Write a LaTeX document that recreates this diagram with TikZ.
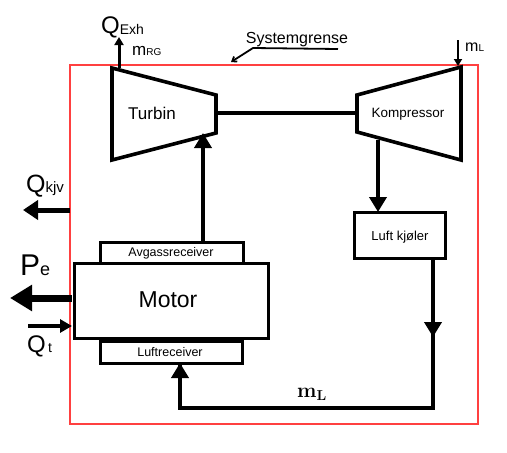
\documentclass[tikz,border=0pt]{standalone}
\usepackage[no-math]{fontspec}
\setmainfont{Liberation Sans}
\usetikzlibrary{arrows.meta}
\tikzset{
  part/.style={line width=3pt, line join=miter},
  flow/.style={line width=4.5pt, -{Triangle[length=15pt,width=17pt]}},
  lbl/.style={inner sep=0pt},
}
\newcommand{\fs}[1]{\fontsize{#1}{#1}\selectfont}

\begin{document}
\begin{tikzpicture}[x=1pt, y=-1pt]
			%%%%% START %%%%%
			\useasboundingbox (0, 0) rectangle (507, 453);
			
			% system boundary
			\draw[line width=1.2pt, color=red!75] (70, 65) rectangle (478, 424);
			
			% turbine and compressor
			\coordinate (tTL) at (112, 68);
			\coordinate (tTR) at (216, 95);
			\coordinate (tBR) at (216, 133);
			\coordinate (tBL) at (112, 160);
			\draw[part, line width=3.6pt] (tTL) -- (tTR) -- (tBR) -- (tBL) -- cycle;
			\node[lbl] (turbin) at (152, 113) {\fs{17}Turbin};
			
			\coordinate (kTL) at (357, 95);
			\coordinate (kTR) at (461, 67);
			\coordinate (kBR) at (461, 160);
			\coordinate (kBL) at (357, 132);
			\draw[part, line width=3.6pt] (kTL) -- (kTR) -- (kBR) -- (kBL) -- cycle;
			\node[lbl] (komp) at (408, 114) {\fs{13.5}Kompressor};
			
			% shaft
			\coordinate (sL) at (216, 113);
			\coordinate (sR) at (357, 113);
			\draw[line width=3.5pt] (sL) -- (sR);
			
			% motor with receivers
			\draw[part] (100, 242) rectangle (243, 263);
			\node[lbl] (avg) at (171, 253) {\fs{12.5}Avgassreceiver};
			\draw[part] (74, 263) rectangle (268, 338);
			\node[lbl] (motor) at (168, 300) {\fs{23}Motor};
			\draw[part] (100, 341) rectangle (242, 363);
			\node[lbl] (luftr) at (170, 352) {\fs{12.5}Luftreceiver};
			
			% air cooler
			\draw[part] (354, 212) rectangle (445, 258);
			\node[lbl] (kjoler) at (400, 237) {\fs{13}Luft kjøler};
			
			% flows
			\coordinate (avgT) at (203, 242);
			\coordinate (tIn) at (203, 133);
			\draw[flow] (avgT) -- (tIn);
			
			\coordinate (kOut) at (378, 140);
			\coordinate (kjT) at (378, 212);
			\draw[flow] (kOut) -- (kjT);
			
			\coordinate (kjB) at (433, 258);
			\coordinate (kjM) at (433, 337);
			\coordinate (cRB) at (433, 408);
			\coordinate (cLB) at (180, 408);
			\coordinate (lrB) at (180, 363);
			\draw[line width=4.5pt, line join=miter] (kjB) -- (cRB) -- (cLB) -- (lrB);
			\draw[flow] (kjB) -- (kjM);
			\draw[flow] (cLB) -- (lrB);
			\node[lbl] (mL) at (312, 394) {\fs{20}$\mathbf{m}_{\mathbf{L}}$};
			
			% exhaust
			\coordinate (exA) at (119, 68);
			\coordinate (exB) at (119, 37);
			\draw[line width=3pt, -{Triangle[length=8pt,width=9pt]}] (exA) -- (exB);
			\node[lbl, anchor=base west] (qexh) at (101, 33) {\fs{24}Q\fs{14}\raisebox{-1pt}{Exh}};
			\node[lbl, anchor=base west] (mrg) at (132, 55) {\fs{17}m\fs{10}RG};
			
			% air intake
			\coordinate (inA) at (458, 40);
			\coordinate (inB) at (458, 66);
			\draw[line width=2pt, -{Triangle[length=7pt,width=8pt]}] (inA) -- (inB);
			\node[lbl, anchor=base west] (mLin) at (465, 51) {\fs{16}m\fs{10}L};
			
			% system boundary label
			\node[lbl] (sys) at (297, 40) {\fs{16}Systemgrense};
			\coordinate (sysR) at (338, 49);
			\coordinate (sysL) at (253, 48);
			\coordinate (sysT) at (231, 62);
			\draw[line width=1.8pt, -{Straight Barb[length=4pt,width=6pt]}] (sysR) -- (sysL) -- (sysT);
			
			% heat and power
			\coordinate (kjvA) at (70, 210);
			\coordinate (kjvB) at (23, 210);
			\draw[line width=5pt, -{Triangle[length=15pt,width=19pt]}] (kjvA) -- (kjvB);
			\node[lbl, anchor=base west] (qkjv) at (26, 192) {\fs{25}Q\fs{15}kjv};
			
			\coordinate (peA) at (72, 298);
			\coordinate (peB) at (10, 298);
			\draw[line width=7pt, -{Triangle[length=22pt,width=25pt]}] (peA) -- (peB);
			\node[lbl, anchor=base west] (pe) at (20, 275) {\fs{30}P\fs{18}e};
			
			\coordinate (qtA) at (28, 326);
			\coordinate (qtB) at (72, 326);
			\draw[line width=3.5pt, -{Triangle[length=12pt,width=13pt]}] (qtA) -- (qtB);
			\node[lbl, anchor=base west] (qt) at (27, 352) {\fs{24}Q\fs{14}\,t};
			
			%%%%% END %%%%%
		\end{tikzpicture}
\end{document}
